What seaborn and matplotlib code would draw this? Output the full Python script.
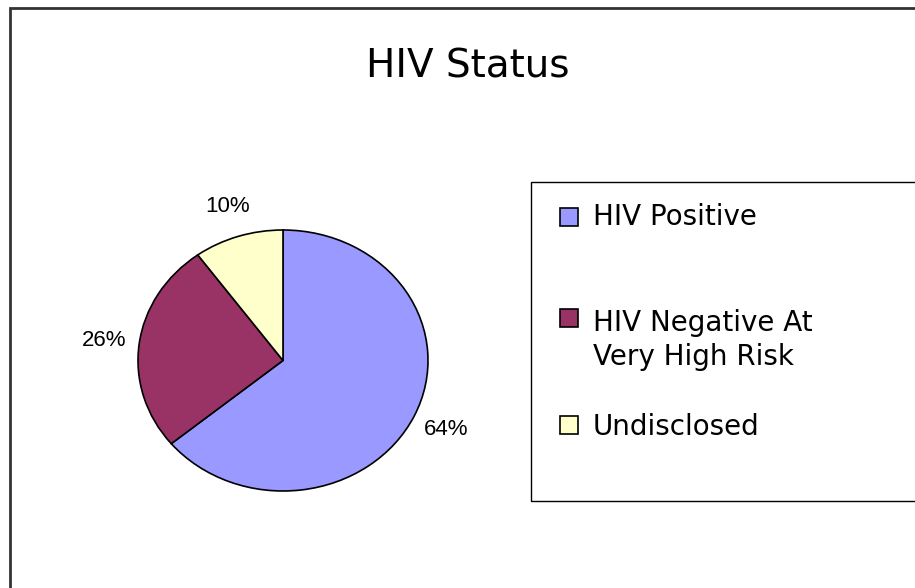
import matplotlib
matplotlib.use("Agg")
import matplotlib.pyplot as plt
from matplotlib.patches import Rectangle
import seaborn as sns

# Chart data
categories = ["HIV Positive", "HIV Negative At\nVery High Risk", "Undisclosed"]
shares = [64, 26, 10]
colors = ["#9999FF", "#993366", "#FFFFCC"]

sns.set_theme(style="white")
plt.rcParams["font.family"] = ["DejaVu Sans"]

W, H = 915, 588
fig = plt.figure(figsize=(W / 100, H / 100), dpi=100)
fig.patch.set_facecolor("white")


def fx(px):
    return px / W


def fy(py):
    return 1 - py / H


# outer chart frame (only top and left edges visible)
fig.patches.append(Rectangle((fx(10), fy(600)), fx(920) - fx(10), fy(8) - fy(600),
                             transform=fig.transFigure, fill=False,
                             edgecolor="#333333", linewidth=2, zorder=0))

fig.text(fx(468), fy(66), "HIV Status", ha="center", va="center", fontsize=28,
         color="black")

# pie axes: elliptical pie, like the original
ax = fig.add_axes([fx(138), fy(491), fx(428) - fx(138), fy(230) - fy(491)])
wedges, texts, autotexts = ax.pie(
    shares, colors=colors, startangle=90, counterclock=False,
    autopct="%d%%", pctdistance=1.24, radius=1,
    wedgeprops=dict(edgecolor="black", linewidth=1.2),
    textprops=dict(fontsize=16, color="black", family="Liberation Sans"))
ax.set_aspect("auto")
ax.set_xlim(-1, 1)
ax.set_ylim(-1, 1)
ax.axis("off")

# legend box
fig.patches.append(Rectangle((fx(531), fy(501)), fx(930) - fx(531), fy(182) - fy(501),
                             transform=fig.transFigure, fill=False,
                             edgecolor="black", linewidth=1, zorder=0))

legend_y = [217, 340, 427]
square_y = [217, 318, 425]
for lab, col, ty, sy in zip(categories, colors, legend_y, square_y):
    fig.patches.append(Rectangle((fx(560), fy(sy + 9)), fx(18), 18 / H,
                                 transform=fig.transFigure, facecolor=col,
                                 edgecolor="black", linewidth=1.2))
    fig.text(fx(593), fy(ty), lab, ha="left", va="center", fontsize=20,
             color="black", linespacing=1.3)

fig.savefig("out.png", dpi=100)
